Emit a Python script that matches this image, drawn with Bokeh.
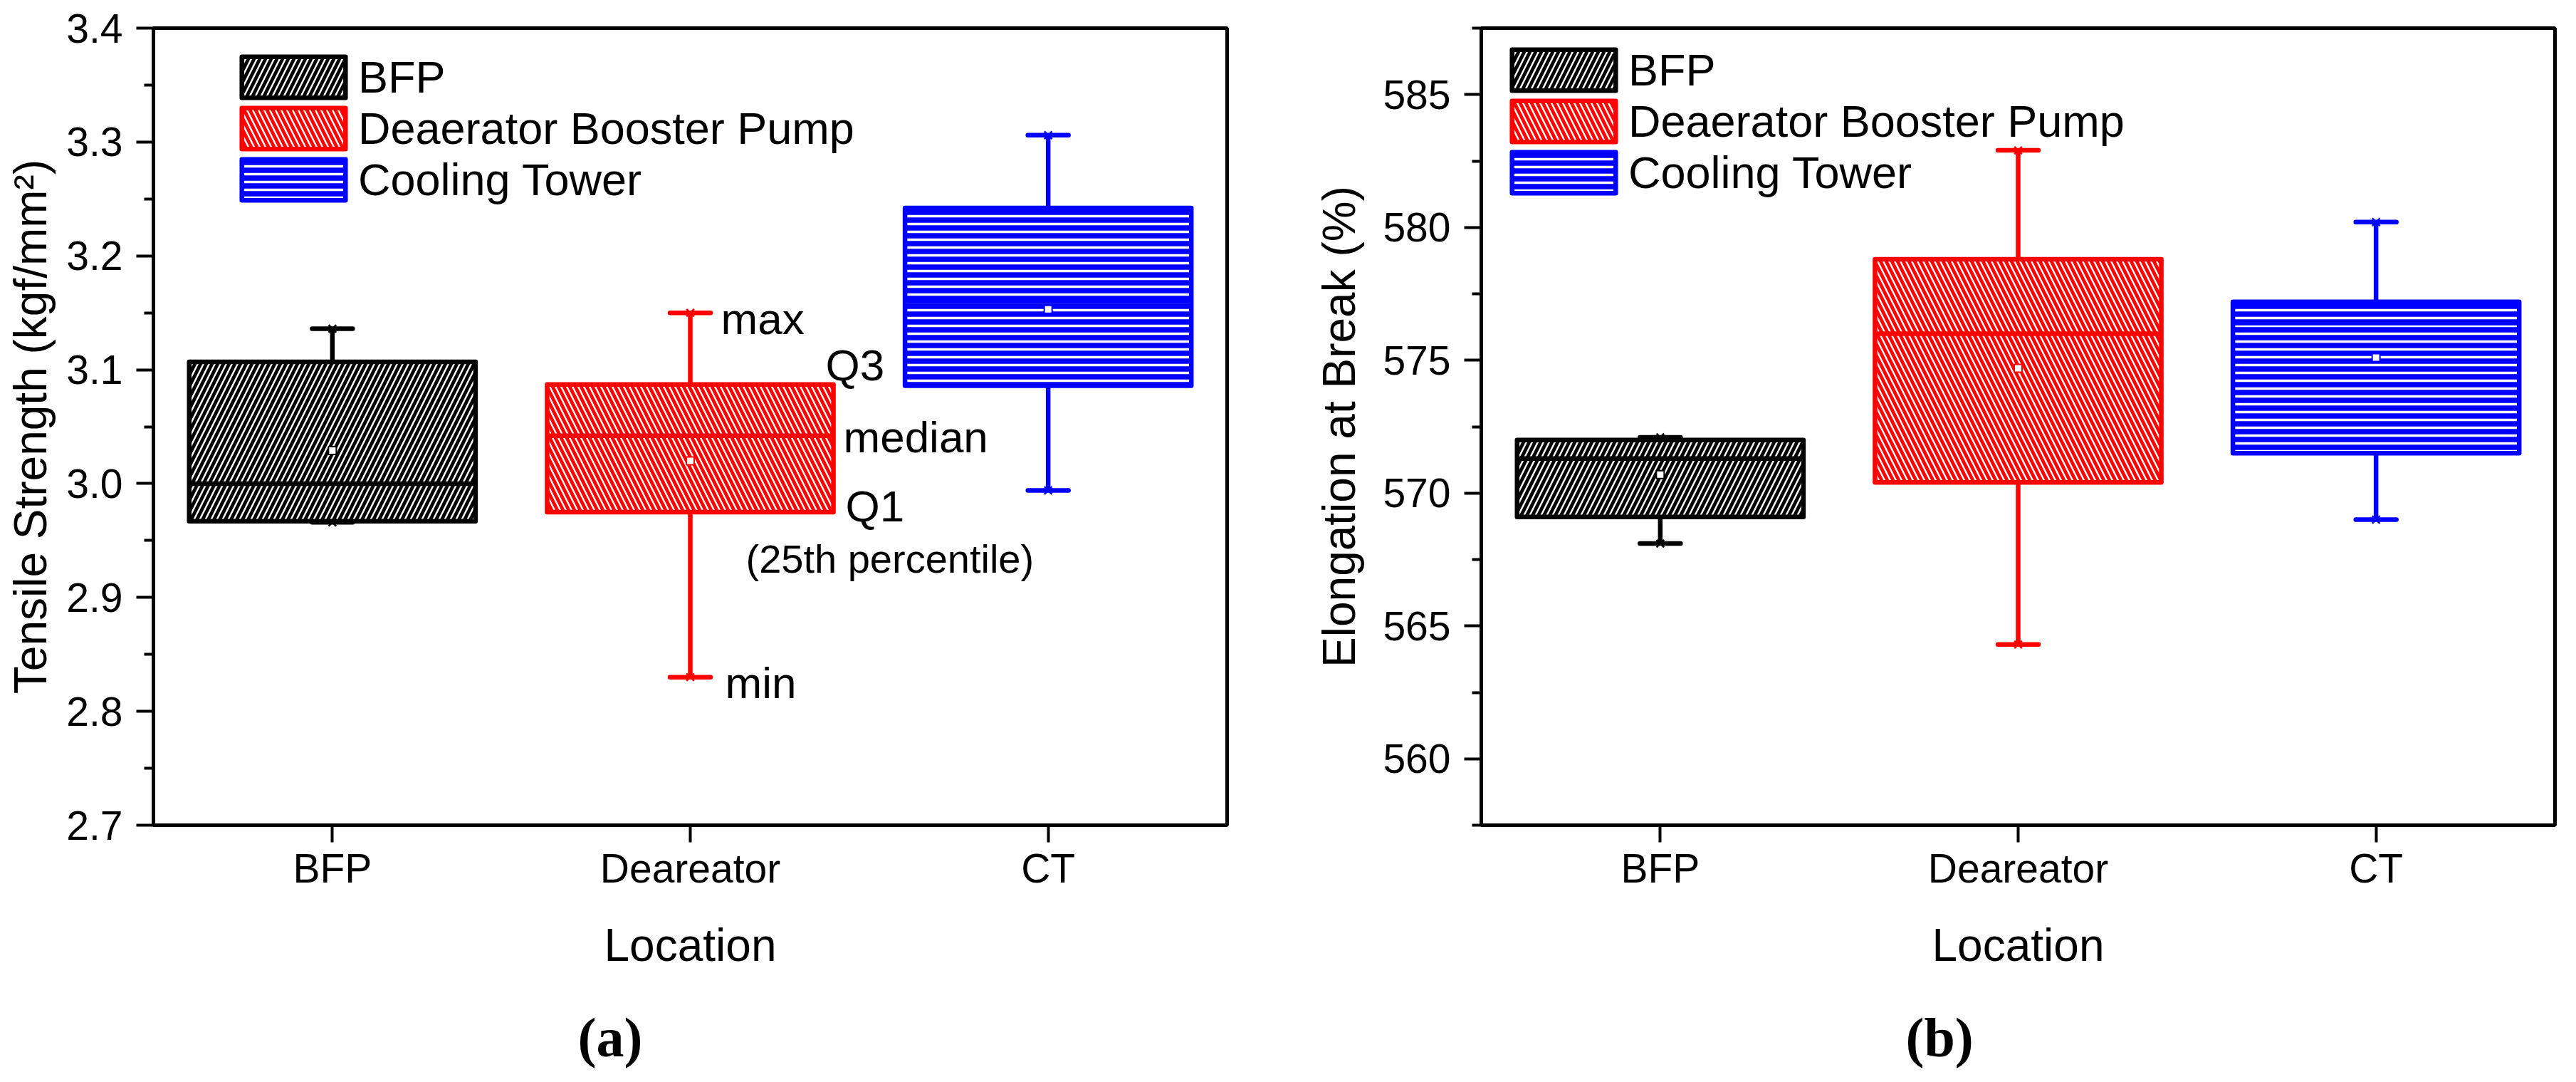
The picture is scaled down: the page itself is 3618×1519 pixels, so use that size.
import bokeh.layouts
import bokeh.models
import bokeh.plotting
from bokeh.core.properties import value
from bokeh.embed import file_html
from bokeh.resources import INLINE

locations = ['BFP', 'Deareator', 'CT']
legend_names = ['BFP', 'Deaerator Booster Pump', 'Cooling Tower']

# tensile strength (kgf/mm2)
ts_min = [2.966, 2.830, 2.994]
ts_q1 = [2.967, 2.975, 3.086]
ts_median = [3.000, 3.042, 3.160]
ts_q3 = [3.107, 3.087, 3.242]
ts_max = [3.136, 3.150, 3.306]
ts_mean = [3.029, 3.020, 3.153]

# elongation at break (%)
el_min = [568.1, 564.3, 569.0]
el_q1 = [569.1, 570.4, 571.5]
el_median = [571.3, 576.0, 576.4]
el_q3 = [572.0, 578.8, 577.2]
el_max = [572.1, 582.9, 580.2]
el_mean = [570.7, 574.7, 575.1]

ts_ticks = [2.7, 2.8, 2.9, 3.0, 3.1, 3.2, 3.3, 3.4]
ts_minor = [2.75, 2.85, 2.95, 3.05, 3.15, 3.25, 3.35]
el_ticks = [560, 565, 570, 575, 580, 585]
el_minor = [557.5, 562.5, 567.5, 572.5, 577.5, 582.5, 587.5]

# labels explaining the Deaerator box
note_text = ['max', 'Q3', 'median', 'Q1', '(25th percentile)', 'min']
note_y = [3.145, 3.104, 3.041, 2.980, 2.934, 2.825]
note_dx = [43, 190, 215, 218, 78, 49]
note_size = ['62px', '62px', '62px', '62px', '56px', '62px']

colors = ['#000000', '#ff0000', '#0000ff']
hatches = ['/', '\\', '-']
hatch_scales = [16, 16, 11]
hatch_weights = [2.4, 2.4, 3.5]

FONT = 'Liberation Sans'


def make_panel(ylabel, stats, yrange, ticks, minor, fmt, caption,
               border_left, border_right, label_standoff, legend_xy):
    lo, q1, med, q3, hi, mean = stats
    p = bokeh.plotting.figure(
        width=1801, height=1503, x_range=locations, y_range=yrange,
        output_backend='svg', toolbar_location=None,
        min_border_left=border_left, min_border_right=border_right,
        min_border_top=39, min_border_bottom=345,
        x_axis_label='Location', y_axis_label=ylabel)
    p.xgrid.visible = False
    p.ygrid.visible = False
    p.outline_line_color = 'black'
    p.outline_line_width = 5
    p.outline_line_alpha = 1

    for ax in (p.xaxis[0], p.yaxis[0]):
        ax.axis_line_width = 5
        ax.major_tick_line_width = 4
        ax.minor_tick_line_width = 4
        ax.major_tick_out = 24
        ax.major_tick_in = 0
        ax.minor_tick_out = 13
        ax.minor_tick_in = 0
        ax.major_label_text_font = FONT
        ax.major_label_text_font_size = '57px'
        ax.major_label_text_color = 'black'
        ax.axis_label_text_font = FONT
        ax.axis_label_text_font_size = '64px'
        ax.axis_label_text_font_style = 'normal'
        ax.axis_label_text_color = 'black'
    p.xaxis.major_label_standoff = 4
    p.xaxis.axis_label_standoff = 37
    p.yaxis.major_label_standoff = 19
    p.yaxis.axis_label_standoff = label_standoff
    p.yaxis.ticker = bokeh.models.FixedTicker(ticks=ticks, minor_ticks=minor)
    p.yaxis.formatter = bokeh.models.NumeralTickFormatter(format=fmt)

    for i, loc in enumerate(locations):
        src = bokeh.models.ColumnDataSource(data={
            'loc': [loc], 'lo': [lo[i]], 'q1': [q1[i]], 'med': [med[i]],
            'q3': [q3[i]], 'hi': [hi[i]], 'mean': [mean[i]],
        })
        c = colors[i]
        p.segment(x0='loc', y0='q3', x1='loc', y1='hi', source=src,
                  line_color=c, line_width=6.5)
        p.segment(x0='loc', y0='q1', x1='loc', y1='lo', source=src,
                  line_color=c, line_width=6.5)
        p.vbar(x='loc', width=0.8, bottom='q1', top='q3', source=src,
               fill_color=c, hatch_pattern=hatches[i], hatch_color='white',
               hatch_scale=hatch_scales[i], hatch_weight=hatch_weights[i],
               line_color=c, line_width=6.5, line_join='round',
               legend_label=legend_names[i])
        p.hbar(y='med', left=bokeh.transform.dodge('loc', -0.4, range=p.x_range),
               right=bokeh.transform.dodge('loc', 0.4, range=p.x_range),
               height=0, source=src, line_color=c, line_width=6.5)
        for col in ('hi', 'lo'):
            p.scatter(x='loc', y=col, source=src, marker='dash', size=57,
                      line_color=c, line_width=6.5, line_cap='round')
            p.scatter(x='loc', y=col, source=src, marker='x', size=15,
                      line_color=c, line_width=2.5)
        p.scatter(x='loc', y='mean', source=src, marker='square', size=11,
                  fill_color='white', line_color=c, line_width=2)

    # the swatch is drawn inset by 10% of the glyph box
    leg = p.legend[0]
    leg.location = legend_xy
    leg.padding = 0
    leg.margin = 0
    leg.spacing = 0
    leg.glyph_width = 182
    leg.glyph_height = 72
    leg.label_height = 71
    leg.label_standoff = 0
    leg.label_text_font = FONT
    leg.label_text_font_size = '63px'
    leg.label_text_color = 'black'
    leg.border_line_color = None
    leg.background_fill_alpha = 0

    # gap under the x axis title, then the sub-figure caption
    p.add_layout(bokeh.models.Title(text=' ', text_font_size='10px',
                                    standoff=32), 'below')
    p.add_layout(bokeh.models.Title(
        text=caption, align='left', offset=596, standoff=0,
        text_font='Liberation Serif', text_font_size='78px',
        text_font_style='bold', text_color='black'), 'below')
    return p


left = make_panel('Tensile Strength (kgf/mm\u00b2)',
                  (ts_min, ts_q1, ts_median, ts_q3, ts_max, ts_mean),
                  (2.7, 3.4), ts_ticks, ts_minor, '0.0', '(a)',
                  215, 78, 11, (106, 870))
notes = bokeh.models.ColumnDataSource(data={
    'x': ['Deareator'] * len(note_text), 'y': note_y, 'text': note_text,
    'dx': note_dx, 'size': note_size,
})
left.text(x='x', y='y', text='text', x_offset='dx', text_font_size='size',
          source=notes, text_font=value(FONT), text_baseline='middle',
          text_align='left', text_color='black')

right = make_panel('Elongation at Break (%)',
                   (el_min, el_q1, el_median, el_q3, el_max, el_mean),
                   (557.5, 587.5), el_ticks, el_minor, '0', '(b)',
                   279, 14, 22, (25, 880))

layout = bokeh.layouts.row(left, right, spacing=0)
open('out.html', 'w').write(file_html(layout, INLINE))
